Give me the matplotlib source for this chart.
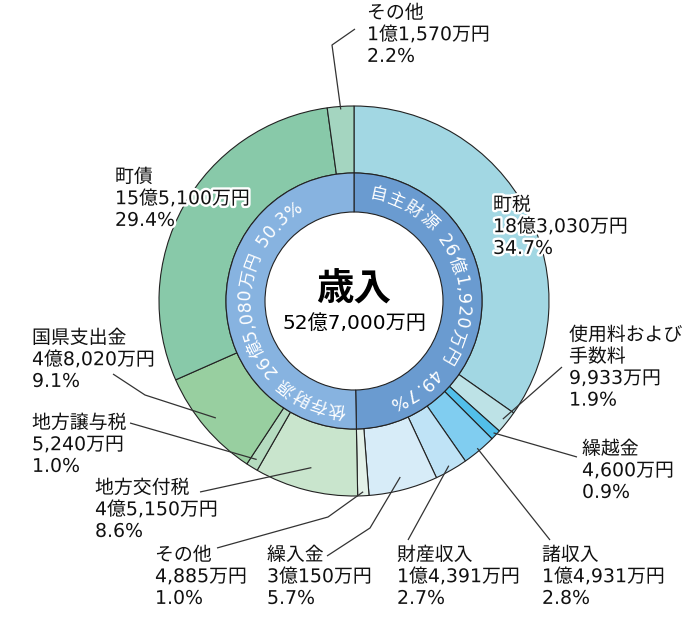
import numpy as np
import matplotlib
matplotlib.use("Agg")
from matplotlib import pyplot as plt
import matplotlib.patheffects as pe

plt.rcParams['font.family'] = ['DejaVu Sans', 'Noto Sans CJK JP']

W, H = 697, 621

# 歳入 (単位: 万円)
names = ["町税", "使用料および\n手数料", "繰越金", "諸収入", "財産収入", "繰入金", "その他",
         "地方交付税", "地方譲与税", "国県支出金", "町債", "その他"]
amounts = [183030, 9933, 4600, 14931, 14391, 30150, 4885,
           45150, 5240, 48020, 155100, 11570]
pcts = [34.7, 1.9, 0.9, 2.8, 2.7, 5.7, 1.0, 8.6, 1.0, 9.1, 29.4, 2.2]
colors = ["#a2d7e3", "#bde2e6", "#52bfe9", "#80cdf0", "#bfe3f6", "#d7ecf8", "#e3f1e8",
          "#c9e5cd", "#b5dcc0", "#98cfa0", "#88c9a9", "#a4d5c0"]

groups = ["自主財源", "依存財源"]
group_amounts = [261920, 265080]
group_pcts = [49.7, 50.3]
group_colors = ["#6a9bd0", "#87b3e0"]

title = "歳入"


def yen(a):
    oku, man = a // 10000, a % 10000
    if oku:
        return f"{oku}億{man:,}万円"
    return f"{man:,}万円"


# layout (pixel coords, y down)
cx, cy = 354, H - 301
R_OUT, R_MID, R_IN = 195, 128, 89

label_pos = [(493, 205), (569, 335), (582, 449), (542, 555), (397, 555), (267, 555),
             (155, 555), (95, 488), (32, 423), (32, 338), (115, 177), (367, 13)]
leaders = {1: (190, [(562, 367)]),
           2: (192, [(577, 457)]),
           3: (192, [(550, 540)]),
           4: (190, [(408, 540)]),
           5: (182, [(370, 528), (327, 556)]),
           6: (191, [(328, 517), (217, 548)]),
           7: (172, [(200, 492)]),
           8: (186, [(130, 423)]),
           9: (181, [(145, 395), (113, 374)]),
           11: (192, [(332, 45), (355, 29)])}
arc_spans = [(12.6, 156.7), (188.7, 326.5)]

fig = plt.figure(figsize=(W / 100, H / 100), dpi=100)
ax = fig.add_axes([0, 0, 1, 1])

edge = dict(edgecolor="#222222", linewidth=0.8)
ax.pie(amounts, radius=R_OUT, center=(cx, cy), startangle=90, counterclock=False,
       colors=colors, wedgeprops=dict(width=R_OUT - R_MID, **edge))
ax.pie(group_amounts, radius=R_MID, center=(cx, cy), startangle=90, counterclock=False,
       colors=group_colors, wedgeprops=dict(width=R_MID - R_IN, **edge))
ax.set_xlim(0, W)
ax.set_ylim(0, H)
ax.set_aspect("equal")
ax.axis("off")

# leader lines
total = sum(amounts)
cum = np.cumsum(amounts) - np.array(amounts) / 2
mid_deg = cum / total * 360
for i, (r, pts) in leaders.items():
    th = np.radians(mid_deg[i])
    xs = [cx + r * np.sin(th)] + [p[0] for p in pts]
    ys = [cy + r * np.cos(th)] + [H - p[1] for p in pts]
    ax.plot(xs, ys, color="#333333", lw=0.9, solid_capstyle="butt")

# labels
halo = [pe.withStroke(linewidth=3.5, foreground="white")]
for i, (x, y) in enumerate(label_pos):
    lines = names[i].split("\n") + [yen(amounts[i]), f"{pcts[i]}%"]
    for k, line in enumerate(lines):
        ax.text(x, H - (y + k * 21.7), line, fontsize=13.6, ha="left", va="center",
                color="#111111", path_effects=halo)

# centre text
ax.text(cx, H - 290, title, fontsize=27, fontweight="bold", ha="center", va="center")
ax.text(cx, H - 323, yen(total), fontsize=14.5, ha="center", va="center")


# curved text on the inner ring
def cw(c):
    if c.isdigit():
        return 0.62
    if c in ",.":
        return 0.34
    if c == " ":
        return 0.45
    if c == "%":
        return 0.9
    return 1.0


r_txt = (R_MID + R_IN) / 2
for g in range(2):
    s = f"{groups[g]} {yen(group_amounts[g])} {group_pcts[g]}%"
    w = np.array([cw(c) for c in s])
    pos = np.cumsum(w) - w / 2
    a0, a1 = arc_spans[g]
    ang = a0 + (a1 - a0) * (pos - pos[0]) / (pos[-1] - pos[0])
    for c, a in zip(s, ang):
        if c == " ":
            continue
        t = np.radians(a)
        ax.text(cx + r_txt * np.sin(t), cy + r_txt * np.cos(t), c, fontsize=12.5,
                color="white", ha="center", va="center", rotation=-a,
                rotation_mode="anchor")

fig.savefig("out.png", dpi=100)
